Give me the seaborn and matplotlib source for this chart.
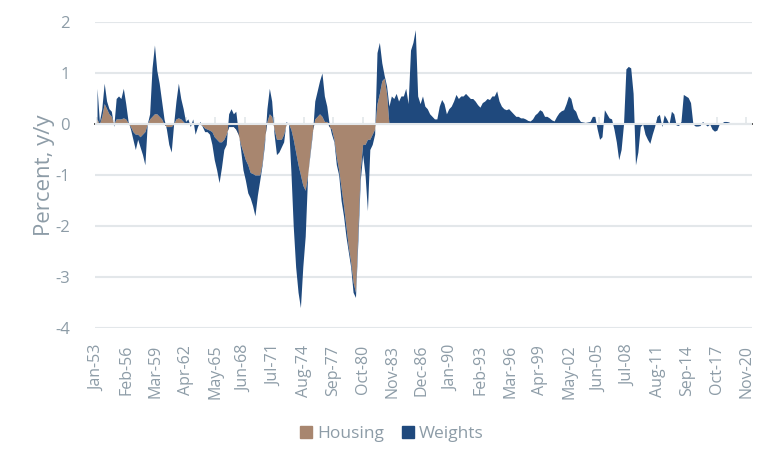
import numpy as np
import pandas as pd
import seaborn as sns
import matplotlib.pyplot as plt
from matplotlib.patches import Patch

# quarterly contributions (percent, y/y), starting Q1 1953
housing = [
    0.1, 0.0, 0.15, 0.4,        # 1953
    0.3, 0.2, 0.15, 0.0,        # 1954
    0.1, 0.1, 0.1, 0.12,        # 1955
    0.1, 0.02, -0.05, -0.15,    # 1956
    -0.2, -0.2, -0.25, -0.2,    # 1957
    -0.15, 0.0, 0.1, 0.15,      # 1958
    0.2, 0.2, 0.15, 0.1,        # 1959
    0.0, -0.05, -0.05, -0.05,   # 1960
    0.0, 0.1, 0.12, 0.1,        # 1961
    0.05, 0.0, 0.0, 0.0,        # 1962
    0.0, 0.0, 0.0, 0.0,         # 1963
    -0.03, -0.08, -0.1, -0.12,  # 1964
    -0.15, -0.25, -0.3, -0.35,  # 1965
    -0.35, -0.3, -0.2, -0.05,   # 1966
    -0.05, -0.05, -0.1, -0.2,   # 1967
    -0.4, -0.55, -0.7, -0.8,    # 1968
    -0.95, -0.97, -1.0, -1.0,   # 1969
    -1.0, -0.75, -0.3, 0.05,    # 1970
    0.2, 0.15, -0.1, -0.3,      # 1971
    -0.3, -0.3, -0.2, 0.0,      # 1972
    0.0, -0.1, -0.3, -0.55,     # 1973
    -0.8, -1.0, -1.2, -1.3,     # 1974
    -1.0, -0.55, -0.15, 0.1,    # 1975
    0.15, 0.2, 0.15, 0.05,      # 1976
    0.05, -0.05, -0.1, -0.3,    # 1977
    -0.65, -0.9, -1.25, -1.6,   # 1978
    -2.0, -2.4, -2.7, -3.1,     # 1979
    -3.3, -2.1, -0.9, -0.4,     # 1980
    -0.4, -0.3, -0.3, -0.2,     # 1981
    -0.1, 0.4, 0.6, 0.85,       # 1982
    0.9, 0.6, 0.0, 0.0,         # 1983
]

weights = [
    0.6, 0.05, 0.15, 0.4,       # 1953
    0.15, 0.1, 0.1, -0.05,      # 1954
    0.4, 0.45, 0.4, 0.58,       # 1955
    0.3, 0.03, -0.05, -0.15,    # 1956
    -0.3, -0.1, -0.2, -0.4,     # 1957
    -0.65, 0.0, 0.1, 0.95,      # 1958
    1.35, 0.85, 0.65, 0.35,     # 1959
    0.1, -0.05, -0.35, -0.5,    # 1960
    0.0, 0.35, 0.68, 0.4,       # 1961
    0.25, 0.05, 0.1, -0.05,     # 1962
    0.1, -0.2, -0.05, 0.05,     # 1963
    -0.02, -0.07, -0.05, -0.08, # 1964
    -0.25, -0.45, -0.6, -0.8,   # 1965
    -0.5, -0.2, -0.2, 0.25,     # 1966
    0.35, 0.25, 0.35, 0.05,     # 1967
    -0.1, -0.35, -0.4, -0.55,   # 1968
    -0.5, -0.63, -0.8, -0.4,    # 1969
    -0.1, -0.05, -0.1, 0.25,    # 1970
    0.5, 0.3, -0.1, -0.3,       # 1971
    -0.25, -0.15, -0.15, 0.05,  # 1972
    0.0, -0.8, -1.7, -2.25,     # 1973
    -2.5, -2.6, -1.6, -0.9,     # 1974
    0.0, -0.05, -0.05, 0.35,    # 1975
    0.5, 0.65, 0.85, 0.5,       # 1976
    0.3, 0.05, -0.1, -0.05,     # 1977
    -0.15, -0.1, -0.25, -0.2,   # 1978
    -0.2, -0.1, -0.1, -0.2,     # 1979
    -0.1, -0.2, -0.2, -0.2,     # 1980
    -0.6, -1.4, -0.2, -0.2,     # 1981
    -0.1, 1.0, 1.0, 0.35,       # 1982
    0.05, 0.15, 0.35, 0.55,     # 1983
    0.5, 0.6, 0.45, 0.55,       # 1984
    0.55, 0.7, 0.4, 1.45,       # 1985
    1.6, 1.85, 0.55, 0.4,       # 1986
    0.55, 0.35, 0.3, 0.2,       # 1987
    0.15, 0.1, 0.1, 0.35,       # 1988
    0.48, 0.4, 0.2, 0.3,        # 1989
    0.35, 0.45, 0.58, 0.5,      # 1990
    0.55, 0.55, 0.6, 0.55,      # 1991
    0.5, 0.5, 0.45, 0.38,       # 1992
    0.33, 0.42, 0.45, 0.5,      # 1993
    0.48, 0.55, 0.55, 0.65,     # 1994
    0.45, 0.35, 0.3, 0.28,      # 1995
    0.3, 0.25, 0.2, 0.15,       # 1996
    0.15, 0.12, 0.12, 0.1,      # 1997
    0.07, 0.06, 0.1, 0.18,      # 1998
    0.22, 0.28, 0.25, 0.15,     # 1999
    0.15, 0.12, 0.08, 0.06,     # 2000
    0.15, 0.22, 0.26, 0.28,     # 2001
    0.4, 0.55, 0.5, 0.3,        # 2002
    0.25, 0.12, 0.05, 0.04,     # 2003
    0.03, 0.04, 0.05, 0.15,     # 2004
    0.15, -0.1, -0.3, -0.25,    # 2005
    0.28, 0.2, 0.12, 0.1,       # 2006
    -0.1, -0.35, -0.7, -0.5,    # 2007
    0.0, 1.08, 1.13, 1.1,       # 2008
    0.6, -0.8, -0.55, -0.05,    # 2009
    0.0, -0.2, -0.3, -0.38,     # 2010
    -0.2, -0.05, 0.15, 0.19,    # 2011
    -0.05, 0.18, 0.1, 0.0,      # 2012
    0.25, 0.2, -0.02, -0.03,    # 2013
    0.05, 0.58, 0.55, 0.52,     # 2014
    0.42, 0.0, -0.04, -0.04,    # 2015
    -0.03, 0.05, 0.0, -0.04,    # 2016
    0.0, -0.1, -0.14, -0.12,    # 2017
    0.0, 0.02, 0.05, 0.05,      # 2018
    0.04, 0.0,                  # 2019
]

# no housing contribution after 1983
housing = housing + [0.0] * (len(weights) - len(housing))

dates = pd.date_range("1953-01-01", periods=len(weights), freq="QS")
df = pd.DataFrame({"date": dates, "Housing": housing, "Weights": weights})

tick_dates = [pd.Timestamp("1953-01-01") + pd.DateOffset(months=37 * i) for i in range(23)]
tick_labels = [d.strftime("%b-%y") for d in tick_dates]

tan = "#a8866f"
navy = "#1f497d"
text_col = "#8d9ca7"
grid_col = "#e3e7ea"

sns.set_theme(style="white")
plt.rcParams["font.family"] = ["Open Sans", "DejaVu Sans"]
plt.rcParams["axes.unicode_minus"] = False

fig = plt.figure(figsize=(7.76, 4.65), dpi=100)
ax = fig.add_axes([0.1224, 0.2946, 0.969 - 0.1224, 0.9527 - 0.2946])

ax.stackplot(df["date"], df["Housing"], df["Weights"], colors=[tan, navy],
             linewidth=0, zorder=2)

ax.set_ylim(-4, 2)
ax.set_yticks(range(-4, 3))
ax.set_xlim(pd.Timestamp("1952-10-15"), pd.Timestamp("2021-06-01"))
ax.grid(axis="y", color=grid_col, lw=1.5, zorder=0)
ax.axhline(0, color=grid_col, lw=1.5, zorder=3)

ax.set_xticks(tick_dates)
ax.set_xticklabels(tick_labels, rotation=90)
ax.tick_params(axis="x", length=0, pad=12, labelsize=11.5, labelcolor=text_col)
ax.tick_params(axis="y", length=0, pad=18, labelsize=12, labelcolor=text_col)
for s in ax.spines.values():
    s.set_visible(False)

# small tick marks on the zero line
sec = ax.secondary_xaxis(2 / 3)
sec.set_xticks(tick_dates)
sec.set_xticklabels([])
sec.tick_params(axis="x", length=5, width=1.2, color=grid_col, direction="out")
sec.spines["bottom"].set_visible(False)

ax.set_ylabel("Percent, y/y", fontsize=16, color=text_col, labelpad=0)

handles = [Patch(color=tan, label="Housing"), Patch(color=navy, label="Weights")]
fig.legend(handles=handles, loc="center", bbox_to_anchor=(0.505, 0.067), ncol=2,
           frameon=False, fontsize=12.5, handlelength=0.7, handleheight=0.7,
           handletextpad=0.3, columnspacing=1.0, labelcolor=text_col)

fig.savefig("out.png", dpi=100)
